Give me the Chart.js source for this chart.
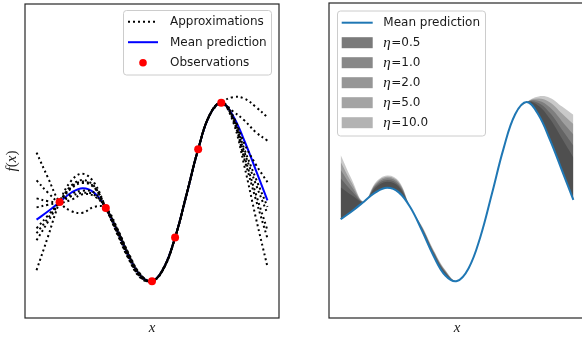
<!DOCTYPE html>
<html><head><meta charset="utf-8">
<script src="https://cdn.jsdelivr.net/npm/chart.js@4"></script>
<style>
html,body{margin:0;padding:0;background:#fff;overflow:hidden;width:582px;height:341px}
#wrap{position:relative;width:582px;height:341px;overflow:hidden;background:#fff}
#c1{position:absolute;left:0;top:0}
#c2{position:absolute;left:300px;top:0}
</style></head><body>
<div id="wrap"><canvas id="c1" width="300" height="341"></canvas><canvas id="c2" width="300" height="341"></canvas></div>
<script>
// ---------- data ----------
const xs = [0,0.5,1,1.5,2,2.5,3,3.5,4,4.5,5,5.5,6,6.5,7,7.5,8,8.5,9,9.5,10];
const meanPrediction = [-0.41,0.18,0.84,1.50,1.82,1.50,0.42,-1.23,-3.03,-4.40,-4.79,-3.88,-1.68,1.40,4.60,7.04,7.91,7.00,5.20,3.10,0.96];
const approx1 = [4.36,2.55,0.84,0.20,0.08,0.50,0.42,-1.05,-2.85,-4.30,-4.79,-3.92,-1.70,1.36,4.58,7.02,7.91,6.60,3.40,-0.30,-3.77];
const approx2 = [-4.01,-1.60,0.84,2.35,2.85,2.20,0.42,-1.45,-3.25,-4.55,-4.79,-3.84,-1.66,1.44,4.62,7.06,7.91,8.30,8.20,7.60,6.87];
const approx3 = [2.38,1.50,0.84,1.00,1.40,1.25,0.42,-1.15,-2.95,-4.35,-4.79,-3.90,-1.69,1.39,4.60,7.03,7.91,6.90,4.60,2.50,0.50];
const approx4 = [-1.88,-0.55,0.84,2.00,2.40,1.95,0.42,-1.35,-3.15,-4.48,-4.79,-3.86,-1.67,1.42,4.61,7.05,7.91,7.30,6.65,5.80,5.21];
const approx5 = [1.10,0.90,0.84,1.25,1.50,1.35,0.42,-1.10,-2.90,-4.32,-4.79,-3.91,-1.70,1.38,4.59,7.03,7.91,6.85,4.40,2.10,0.01];
const approx6 = [-1.38,-0.30,0.84,1.90,2.30,1.90,0.42,-1.30,-3.10,-4.45,-4.79,-3.87,-1.68,1.41,4.60,7.04,7.91,7.00,5.00,3.50,2.26];
const approx7 = [0.46,0.65,0.84,1.40,1.65,1.50,0.42,-1.20,-3.00,-4.38,-4.79,-3.89,-1.69,1.40,4.60,7.04,7.91,6.80,4.10,1.40,-1.17];
const approx8 = [-1.03,-0.10,0.84,1.80,2.20,1.85,0.42,-1.40,-3.20,-4.50,-4.79,-3.85,-1.67,1.43,4.61,7.05,7.91,6.75,3.90,1.00,-1.74];
const obsX = [1,3,5,6,7,8];
const obsY = [0.84,0.42,-4.79,-1.68,4.60,7.91];
const etaLabels = ['0.5','1.0','2.0','5.0','10.0'];
const bandEta05 = [1.87,1.27,0.84,1.85,2.26,1.90,0.42,-1.07,-2.82,-4.20,-4.79,-3.88,-1.68,1.40,4.60,7.04,7.91,7.65,6.70,5.35,3.98];
const bandEta1  = [2.51,1.57,0.84,1.95,2.38,2.01,0.42,-1.02,-2.76,-4.14,-4.79,-3.88,-1.68,1.40,4.60,7.04,7.91,7.83,7.12,5.98,4.83];
const bandEta2  = [3.10,1.85,0.84,2.04,2.50,2.12,0.42,-0.98,-2.70,-4.09,-4.79,-3.88,-1.68,1.40,4.60,7.04,7.91,8.00,7.51,6.57,5.61];
const bandEta5  = [3.65,2.11,0.84,2.12,2.60,2.21,0.42,-0.94,-2.65,-4.04,-4.79,-3.88,-1.68,1.40,4.60,7.04,7.91,8.16,7.87,7.11,6.34];
const bandEta10 = [4.15,2.35,0.84,2.20,2.70,2.30,0.42,-0.90,-2.60,-4.00,-4.79,-3.88,-1.68,1.40,4.60,7.04,7.91,8.30,8.20,7.60,7.00];
const seriesLabels = ['Approximations','Mean prediction','Observations'];
const axisLabelX = 'x';
const etaSymbol = 'η';

// ---------- helpers ----------
const pts = ys => xs.map((x, i) => ({x: x, y: ys[i]}));
const SANS = '"DejaVu Sans", sans-serif';
const SERIF_IT = 'italic 15px "Liberation Serif", "DejaVu Serif", serif';
function makeScales() {
  return {
    x: {type: 'linear', min: -0.5, max: 10.5, display: false},
    y: {type: 'linear', min: -7.41, max: 14.93, display: false}
  };
}
function roundRectPath(ctx, x, y, w, h, r) {
  ctx.beginPath();
  ctx.moveTo(x + r, y); ctx.lineTo(x + w - r, y); ctx.arcTo(x + w, y, x + w, y + r, r);
  ctx.lineTo(x + w, y + h - r); ctx.arcTo(x + w, y + h, x + w - r, y + h, r);
  ctx.lineTo(x + r, y + h); ctx.arcTo(x, y + h, x, y + h - r, r);
  ctx.lineTo(x, y + r); ctx.arcTo(x, y, x + r, y, r); ctx.closePath();
}
function drawPieces(ctx, pieces, cx, cy) {
  let total = 0;
  pieces.forEach(p => { ctx.font = p.font; p.w = ctx.measureText(p.t).width; total += p.w; });
  let x = cx - total / 2;
  ctx.textAlign = 'left';
  pieces.forEach(p => { ctx.font = p.font; ctx.fillText(p.t, x, cy); x += p.w; });
}

const panelPlugin = {
  id: 'panel',
  afterDraw(chart, args, o) {
    const ctx = chart.ctx, a = chart.chartArea;
    ctx.save();
    ctx.strokeStyle = '#262626'; ctx.lineWidth = 1.2;
    ctx.strokeRect(a.left, a.top, a.right - a.left, a.bottom - a.top);
    ctx.fillStyle = '#1a1a1a';
    ctx.textBaseline = 'middle';
    ctx.font = SERIF_IT; ctx.textAlign = 'center';
    ctx.fillText(axisLabelX, (a.left + a.right) / 2, 328);
    if (o.yLabel) {
      ctx.save();
      ctx.translate(12, (a.top + a.bottom) / 2);
      ctx.rotate(-Math.PI / 2);
      drawPieces(ctx, [
        {t: 'f', font: SERIF_IT}, {t: '(', font: '15px "Liberation Serif", serif'},
        {t: 'x', font: SERIF_IT}, {t: ')', font: '15px "Liberation Serif", serif'}
      ], 0, 0);
      ctx.restore();
    }
    const L = o.legend;
    roundRectPath(ctx, L.box[0], L.box[1], L.box[2], L.box[3], 3);
    ctx.fillStyle = 'rgba(255,255,255,0.85)'; ctx.fill();
    ctx.strokeStyle = '#cccccc'; ctx.lineWidth = 1; ctx.stroke();
    L.items.forEach((it, i) => {
      const y = L.rows[i];
      const h0 = L.handle[0], h1 = L.handle[1];
      ctx.save();
      if (it.kind === 'dots') {
        ctx.strokeStyle = it.color; ctx.lineWidth = 2; ctx.setLineDash([2, 3]);
        ctx.beginPath(); ctx.moveTo(h0, y); ctx.lineTo(h1, y); ctx.stroke();
      } else if (it.kind === 'line') {
        ctx.strokeStyle = it.color; ctx.lineWidth = 2;
        ctx.beginPath(); ctx.moveTo(h0, y); ctx.lineTo(h1, y); ctx.stroke();
      } else if (it.kind === 'marker') {
        ctx.fillStyle = it.color;
        ctx.beginPath(); ctx.arc((h0 + h1) / 2, y, 3.8, 0, Math.PI * 2); ctx.fill();
      } else if (it.kind === 'patch') {
        ctx.fillStyle = it.color;
        ctx.fillRect(h0, y - 5.5, h1 - h0, 11);
      }
      ctx.restore();
      ctx.fillStyle = '#1a1a1a'; ctx.textAlign = 'left'; ctx.textBaseline = 'middle';
      if (it.eta) {
        ctx.font = SERIF_IT;
        ctx.fillText(etaSymbol, L.textX, y);
        const w = ctx.measureText(etaSymbol).width;
        ctx.font = '12px ' + SANS;
        ctx.fillText('=' + it.eta, L.textX + w + 0.5, y + 0.5);
      } else {
        ctx.font = '12px ' + SANS;
        ctx.fillText(it.label, L.textX, y + 0.5);
      }
    });
    ctx.restore();
  }
};

// ---------- left panel ----------
const approxSeries = [approx1, approx2, approx3, approx4, approx5, approx6, approx7, approx8];
const leftDatasets = [
  {label: seriesLabels[2], data: obsX.map((x, i) => ({x: x, y: obsY[i]})), showLine: false,
   pointRadius: 4, pointBackgroundColor: '#ff0000', pointBorderWidth: 0, pointBorderColor: '#ff0000', order: 0}
].concat(approxSeries.map((s, i) => ({
  label: i === 0 ? seriesLabels[0] : '', data: pts(s), borderColor: '#000000', borderWidth: 2,
  borderDash: [2, 3], pointRadius: 0, fill: false, tension: 0.4, order: 1
}))).concat([
  {label: seriesLabels[1], data: pts(meanPrediction), borderColor: '#0000ff', borderWidth: 2,
   pointRadius: 0, fill: false, tension: 0.4, order: 2}
]);

new Chart(document.getElementById('c1'), {
  type: 'line',
  data: {datasets: leftDatasets},
  options: {
    responsive: false, animation: false, devicePixelRatio: 1,
    layout: {padding: {left: 25, right: 21, top: 3, bottom: 23}},
    scales: makeScales(),
    plugins: {
      legend: {display: false}, tooltip: {enabled: false},
      panel: {
        yLabel: true,
        legend: {
          box: [123.5, 10.5, 148, 64.5], rows: [21.7, 42.2, 62.7], handle: [128, 158], textX: 170,
          items: [
            {kind: 'dots', color: '#000000', label: seriesLabels[0]},
            {kind: 'line', color: '#0000ff', label: seriesLabels[1]},
            {kind: 'marker', color: '#ff0000', label: seriesLabels[2]}
          ]
        }
      }
    }
  },
  plugins: [panelPlugin]
});

// ---------- right panel ----------
const bandSeries = [bandEta05, bandEta1, bandEta2, bandEta5, bandEta10];
const bandLegendColors = ['#7a7a7a', '#888888', '#969696', '#a4a4a4', '#b3b3b3'];
const rightDatasets = [
  {label: seriesLabels[1], data: pts(meanPrediction), borderColor: '#1f77b4', borderWidth: 2,
   pointRadius: 0, fill: false, tension: 0.4, order: 0}
].concat(bandSeries.map((b, i) => ({
  label: etaSymbol + '=' + etaLabels[i], data: pts(b), borderColor: 'rgba(0,0,0,0)', borderWidth: 0,
  backgroundColor: 'rgba(0,0,0,0.21)', fill: 0, pointRadius: 0, tension: 0.4, order: 1
})));

new Chart(document.getElementById('c2'), {
  type: 'line',
  data: {datasets: rightDatasets},
  options: {
    responsive: false, animation: false, devicePixelRatio: 1,
    layout: {padding: {left: 29, right: 15, top: 3, bottom: 23}},
    scales: makeScales(),
    plugins: {
      legend: {display: false}, tooltip: {enabled: false}, filler: {propagate: false},
      panel: {
        yLabel: false,
        legend: {
          box: [37.5, 11, 148, 125], rows: [22.7, 42.7, 62.7, 82.7, 102.7, 122.7], handle: [41.7, 72.7], textX: 83.3,
          items: [{kind: 'line', color: '#1f77b4', label: seriesLabels[1]}].concat(
            etaLabels.map((e, i) => ({kind: 'patch', color: bandLegendColors[i], eta: e})))
        }
      }
    }
  },
  plugins: [panelPlugin]
});
</script>
</body></html>
